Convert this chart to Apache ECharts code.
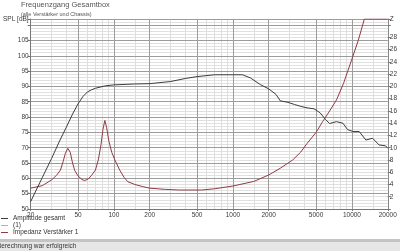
<!DOCTYPE html>
<html><head><meta charset="utf-8">
<script src="https://cdn.jsdelivr.net/npm/echarts@6/dist/echarts.min.js"></script>
<style>html,body{margin:0;padding:0;background:#fff;overflow:hidden}#c{width:400px;height:251px}</style>
</head><body><div id="c"></div>
<script>
const titleText = 'Frequenzgang Gesamtbox';
const subtitleText = '(alle Verstärker und Chassis)';
const statusText = 'Berechnung war erfolgreich';
const seriesNames = ['Amplitude gesamt', '(1)', 'Impedanz Verstärker 1'];
const xLabelValues = [20, 50, 100, 200, 500, 1000, 2000, 5000, 10000, 20000];
const xMinorValues = [30, 40, 60, 70, 80, 90, 150, 300, 400, 600, 700, 800, 900, 1500, 3000, 4000, 6000, 7000, 8000, 9000, 15000];
const splFreq = [20, 25, 30, 35, 40, 45, 50, 55, 60, 65, 70, 85, 100, 150, 200, 300, 400, 500, 700, 1000, 1200, 1400, 1700, 2000, 2300, 2500, 2900, 3300, 3700, 4200, 4800, 5400, 6000, 6500, 7400, 8400, 9200, 10200, 11500, 13100, 14900, 16900, 19200, 20000];
const splValues = [52.4, 60.2, 66.5, 72.2, 76.8, 81.0, 84.3, 86.7, 88.2, 88.9, 89.4, 90.2, 90.5, 90.8, 90.9, 91.6, 92.6, 93.2, 93.8, 93.8, 93.8, 92.8, 90.6, 89.2, 87.4, 85.3, 84.8, 84.1, 83.5, 83.0, 82.7, 81.4, 79.2, 77.9, 78.5, 78.0, 75.9, 75.3, 75.3, 72.5, 73.1, 70.9, 70.6, 69.8];
const chassisFreq = [];
const chassisValues = [];
const zFreq = [20, 25, 30, 33, 35.6, 37.5, 39, 41, 43, 45, 47, 50, 54, 57, 61, 65, 70, 74, 78, 81, 84, 87, 91, 96, 102, 112, 122, 131, 150, 175, 200, 270, 355, 547, 700, 1000, 1500, 2000, 2500, 3180, 3700, 4220, 5000, 5670, 6500, 7420, 8500, 9950, 11300, 12720, 20000];
const zValues = [3.4, 3.8, 4.75, 5.5, 6.35, 7.75, 9.0, 9.9, 9.25, 7.5, 6.25, 5.4, 4.8, 4.65, 4.9, 5.5, 6.35, 8.0, 10.5, 13.0, 14.45, 13.25, 11.0, 9.25, 8.0, 6.35, 5.15, 4.45, 4.0, 3.65, 3.4, 3.2, 3.1, 3.1, 3.3, 3.75, 4.5, 5.55, 6.65, 8.0, 9.25, 10.75, 12.5, 14.25, 16.0, 17.8, 20.5, 24.35, 27.5, 31.0, 31.0];

const lg = Math.log10;
const toPts = (fs, vs) => fs.map((f, i) => [lg(f), vs[i]]);
const xMin = lg(20), xMax = lg(20000);
const font = 'Liberation Sans, Arial, sans-serif';
const lblColor = '#3a3a3a';

const chart = echarts.init(document.getElementById('c'), null, {renderer: 'canvas'});
chart.setOption({
  animation: false,
  backgroundColor: '#fff',
  textStyle: {fontFamily: font},
  title: {
    text: titleText, subtext: subtitleText, left: 21, top: 1, itemGap: 2, padding: 0,
    textStyle: {fontSize: 7.5, fontWeight: 'normal', color: '#555', fontFamily: font},
    subtextStyle: {fontSize: 5.5, color: '#555', fontFamily: font}
  },
  legend: {
    orient: 'vertical', left: 1, top: 215, itemGap: 0, itemWidth: 7, itemHeight: 1, padding: 0,
    icon: 'rect',
    textStyle: {fontSize: 6.5, color: '#333', lineHeight: 7, fontFamily: font},
    data: seriesNames
  },
  grid: {left: 22, right: 7, top: 19, bottom: 42, containLabel: false},
  xAxis: [{
    type: 'value', min: xMin, max: xMax, z: 1,
    axisLine: {show: true, lineStyle: {color: '#777', width: 1}},
    axisTick: {show: true, length: 2, customValues: xLabelValues.map(lg), lineStyle: {color: '#777'}},
    axisLabel: {customValues: xLabelValues.map(lg), formatter: v => String(Math.round(Math.pow(10, v))), fontSize: 6.5, color: lblColor, margin: 3, fontFamily: font},
    splitLine: {show: true, lineStyle: {color: '#9c9c9c', width: 1}}
  }, {
    type: 'value', min: xMin, max: xMax, position: 'top', z: 0,
    axisLine: {show: false}, axisLabel: {show: false},
    axisTick: {show: false, customValues: xMinorValues.map(lg)},
    splitLine: {show: true, lineStyle: {color: '#dedede', width: 1}}
  }],
  yAxis: [{
    type: 'value', min: 50, max: 112, interval: 5, position: 'left', z: 1,
    axisLine: {show: true, lineStyle: {color: '#777'}},
    axisTick: {show: true, length: 3, lineStyle: {color: '#777'}},
    axisLabel: {formatter: v => v === 112 ? 'SPL [dB]' : (v === 110 ? '' : String(v)), fontSize: 6.5, color: lblColor, margin: 2, fontFamily: font},
    splitLine: {show: true, lineStyle: {color: '#9c9c9c'}}
  }, {
    type: 'value', min: 0, max: 31, interval: 2, position: 'right', z: 1,
    axisLine: {show: true, lineStyle: {color: '#888'}},
    axisTick: {show: true, length: 3, lineStyle: {color: '#777'}},
    axisLabel: {formatter: v => v === 31 ? 'Z' : ((v === 30 || v === 0) ? '' : String(v)), fontSize: 6.5, color: lblColor, margin: 2, fontFamily: font},
    splitLine: {show: false}
  }, {
    type: 'value', min: 50, max: 112, interval: 1, position: 'left', z: 0,
    axisLine: {show: false}, axisTick: {show: false}, axisLabel: {show: false},
    splitLine: {show: true, lineStyle: {color: '#e0e0e0'}}
  }],
  series: [{
    name: seriesNames[0], type: 'line', xAxisIndex: 0, yAxisIndex: 0, symbol: 'none',
    data: toPts(splFreq, splValues), lineStyle: {color: '#3c3c3c', width: 1}, itemStyle: {color: '#3c3c3c'}, z: 3
  }, {
    name: seriesNames[1], type: 'line', xAxisIndex: 0, yAxisIndex: 0, symbol: 'none',
    data: toPts(chassisFreq, chassisValues), lineStyle: {color: '#b0b0b0', width: 1}, itemStyle: {color: '#b0b0b0'}
  }, {
    name: seriesNames[2], type: 'line', xAxisIndex: 0, yAxisIndex: 1, symbol: 'none',
    data: toPts(zFreq, zValues), lineStyle: {color: '#8e3b45', width: 1}, itemStyle: {color: '#8e3b45'}, z: 2
  }],
  graphic: [
    {type: 'rect', left: 0, top: 239, shape: {width: 400, height: 3}, style: {fill: '#c4c4c4'}, silent: true},
    {type: 'rect', left: 0, top: 242, shape: {width: 400, height: 9}, style: {fill: '#e6e6e6'}, silent: true},
    {type: 'text', left: -3, top: 243, style: {text: statusText, fontSize: 6.5, fill: '#333', fontFamily: font}, silent: true}
  ]
});
</script></body></html>
